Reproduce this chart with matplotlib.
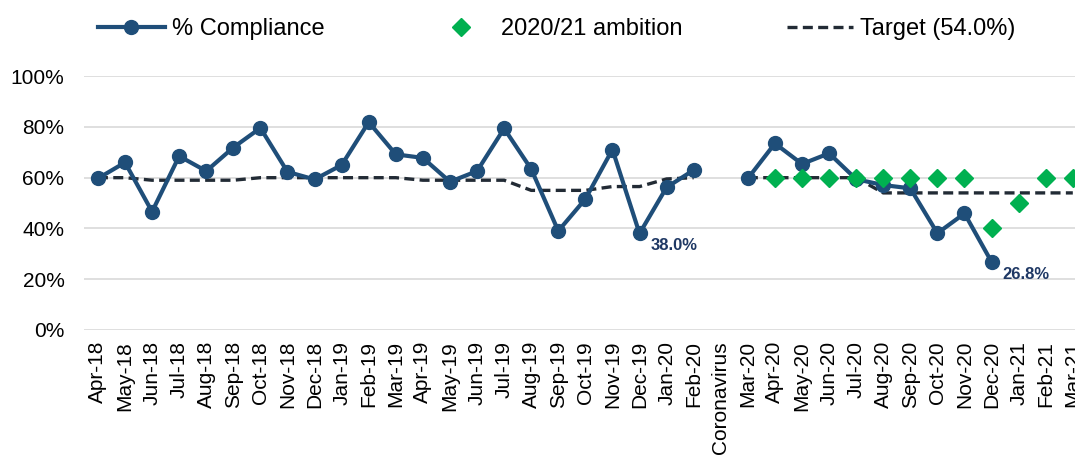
import numpy as np
import matplotlib.pyplot as plt

plt.rcParams['font.family'] = ['Liberation Sans', 'DejaVu Sans']

months = ["Apr-18", "May-18", "Jun-18", "Jul-18", "Aug-18", "Sep-18", "Oct-18", "Nov-18",
          "Dec-18", "Jan-19", "Feb-19", "Mar-19", "Apr-19", "May-19", "Jun-19", "Jul-19",
          "Aug-19", "Sep-19", "Oct-19", "Nov-19", "Dec-19", "Jan-20", "Feb-20", "Coronavirus",
          "Mar-20", "Apr-20", "May-20", "Jun-20", "Jul-20", "Aug-20", "Sep-20", "Oct-20",
          "Nov-20", "Dec-20", "Jan-21", "Feb-21", "Mar-21"]

nan = np.nan
compliance = [59.7, 66.0, 46.6, 68.5, 62.6, 71.9, 79.6, 62.3, 59.3, 65.0, 81.9, 69.2,
              67.8, 58.4, 62.6, 79.4, 63.4, 39.0, 51.6, 71.1, 38.0, 56.2, 63.0, nan,
              59.7, 73.5, 65.4, 69.6, 59.4, 57.1, 55.8, 38.1, 45.9, 26.8, nan, nan, nan]

ambition = [nan] * 25 + [60, 60, 60, 60, 60, 60, 60, 60, 40, 50, 60, 60]

target = [60, 60, 59, 59, 59, 59, 60, 60, 60, 60, 60, 60, 59, 59, 59, 59,
          55, 55, 55, 56.5, 56.5, 59.5, 60, nan,
          60, 60, 60, 60, 60, 54, 54, 54, 54, 54, 54, 54, 54]

x = np.arange(len(months))
comp = np.array(compliance) / 100
amb = np.array(ambition) / 100
tgt = np.array(target) / 100

fig = plt.figure(figsize=(10.75, 4.62), dpi=100)
ax = fig.add_axes([0.078, 0.286, 0.925, 0.549])

ax.plot(x, comp, color="#1F4E79", linewidth=3, marker="o", markersize=10,
        label="% Compliance", zorder=3)
ax.plot(x, amb, color="#00B050", linestyle="none", marker="D", markersize=9.5,
        label="2020/21 ambition", zorder=4)
ax.plot(x, tgt, color="#222B35", linewidth=2.4, linestyle=(0, (3, 1.6)),
        label="Target (54.0%)", zorder=2)

# data labels on the two low points
for i in [20, 33]:
    ax.annotate(f"{compliance[i]:.1f}%", (x[i], comp[i]), xytext=(8, -9),
                textcoords="offset points", ha="left", va="center",
                fontsize=12, fontweight="bold", color="#1F3864")

ax.set_xlim(-0.52, 36.2)
ax.set_ylim(0, 1.0)
ax.set_yticks(np.arange(0, 1.01, 0.2))
ax.set_yticklabels([f"{int(v * 100)}%" for v in np.arange(0, 1.01, 0.2)], fontsize=15)
ax.set_xticks(x)
ax.set_xticklabels(months, rotation=90, fontsize=15)
ax.tick_params(axis="x", length=0, pad=8)
ax.tick_params(axis="y", length=0, pad=14)
ax.grid(axis="y", color="#D9D9D9", linewidth=1.2)
ax.set_axisbelow(True)
for s in ax.spines.values():
    s.set_visible(False)
ax.patch.set_alpha(0)

fig.legend(loc="center", bbox_to_anchor=(0.518, 0.937), ncol=3, frameon=False,
           fontsize=17, handlelength=2.8, columnspacing=4.4, handletextpad=0.3)

plt.savefig("out.png", dpi=100)
